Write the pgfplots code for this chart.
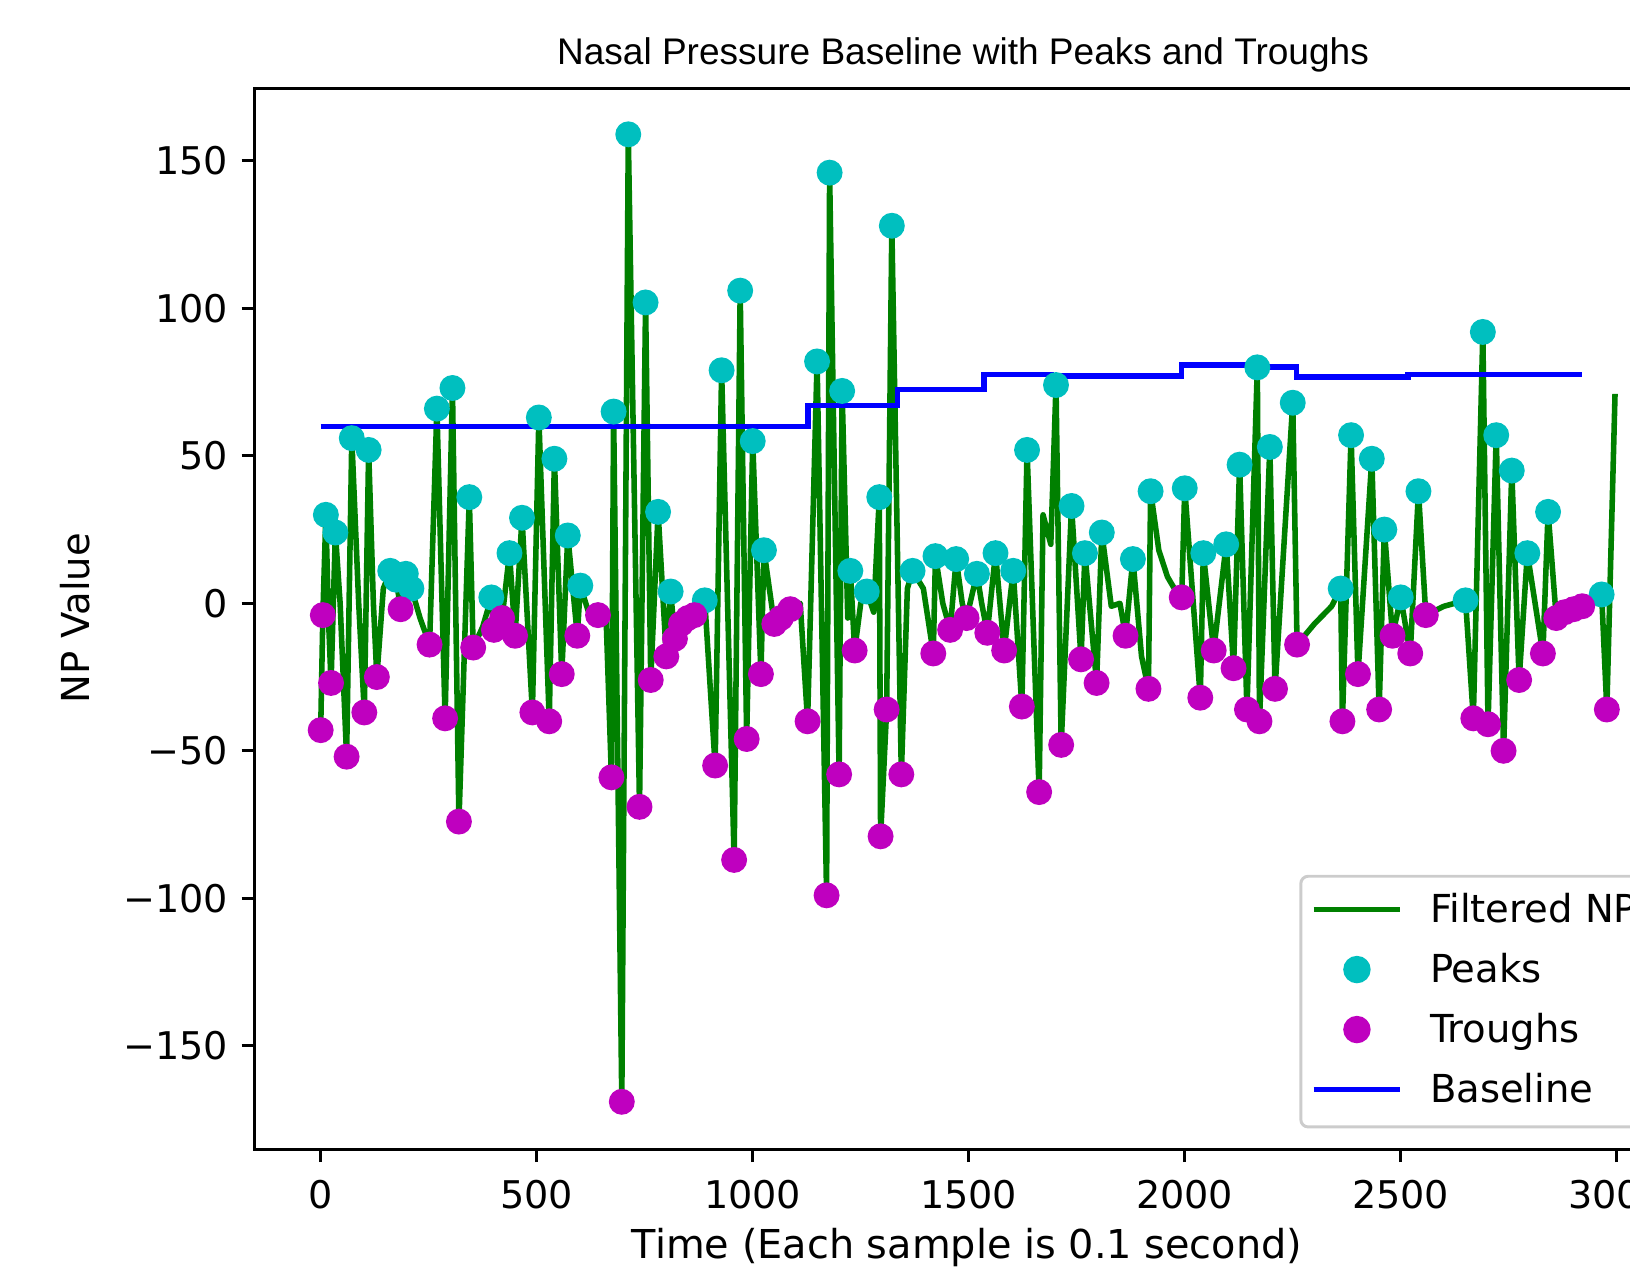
\documentclass[border=0pt]{standalone}
\usepackage{pgfplots}
\pgfplotsset{compat=1.18}
\usepackage{fontspec}
\setmainfont{DejaVu Sans}
\newfontfamily\titlefont{Liberation Sans}
\definecolor{npgreen}{rgb}{0,0.5,0}
\definecolor{pkcyan}{rgb}{0,0.75,0.75}
\definecolor{trmag}{rgb}{0.75,0,0.75}
\definecolor{blblue}{rgb}{0,0,1}
\pgfplotsset{
  linelegend/.style={legend image code/.code={\path[draw=none,fill=none] (0pt,-2pt) rectangle (23.4pt,8pt); \draw[##1, draw opacity=1, fill opacity=1] (0pt,3.6pt) -- (23.4pt,3.6pt);}},
  marklegend/.style={legend image code/.code={\path[draw=none,fill=none] (0pt,-2pt) rectangle (23.4pt,8pt); \draw[##1, draw opacity=1, fill opacity=1, mark options={draw opacity=1, fill opacity=1}] plot coordinates {(11.7pt,3.6pt)};}},
}
\begin{document}
\begin{tikzpicture}[trim left=-68.715pt, trim right=371.385pt]
\path (0pt,-32.05pt) -- (0pt,310.31pt);
\begin{axis}[
  at={(0pt,0pt)}, anchor=south west,
  scale only axis, width=390.3pt, height=286.3pt,
  xmin=-153.2, xmax=3192.8, ymin=-185.1, ymax=174.4,
  axis line style={line width=0.8pt},
  tick style={line width=0.8pt, black},
  major tick length=3.5pt,
  tick align=outside,
  xtick pos=bottom, ytick pos=left,
  xtick={0,500,1000,1500,2000,2500,3000},
  xticklabels={0,500,1000,1500,2000,2500,3000},
  ytick={-150,-100,-50,0,50,100,150},
  yticklabels={−150,−100,−50,0,50,100,150},
  xticklabel style={font=\fontsize{10.3}{12}\selectfont, anchor=base, inner sep=0pt, yshift=-12.5pt},
  yticklabel style={font=\fontsize{10.3}{12}\selectfont, anchor=east, inner sep=0pt, xshift=-3.4pt},
  legend cell align=left,
  legend style={at={(0.7228,0.2589)}, anchor=north west,
    draw=black!20, line width=0.8pt, rounded corners=2pt, fill=white, fill opacity=0.8, text opacity=1,
    inner xsep=2.7pt, inner ysep=1.45pt, row sep=0pt, column sep=7.3pt,
    cells={anchor=base west},
    nodes={inner sep=0pt, text height=11.15pt, text depth=5.05pt},
    font=\fontsize{10.4}{12}\selectfont},
]
\addlegendimage{color=npgreen, line width=1.5pt, linelegend}
\addlegendentry{Filtered NP}
\addlegendimage{only marks, mark=*, color=pkcyan, mark size=3.3pt, marklegend}
\addlegendentry{Peaks}
\addlegendimage{only marks, mark=*, color=trmag, mark size=3.3pt, marklegend}
\addlegendentry{Troughs}
\addlegendimage{color=blblue, line width=1.5pt, linelegend}
\addlegendentry{Baseline}

% Peaks
\addplot[forget plot, only marks, mark=*, mark size=3.3pt, color=pkcyan] coordinates {
(12,30)(34,24)(72,56)(111,52)(161,11)(175,8)(197,10)(210,5)(269,66)(305,73)(344,36)(395,2)
(437,17)(466,29)(505,63)(541,49)(572,23)(601,6)(678,65)(712,159)(752,102)(781,31)(810,4)
(889,1)(928,79)(971,106)(1000,55)(1026,18)(1149,82)(1178,146)(1207,72)(1226,11)(1264,4)
(1293,36)(1322,128)(1370,11)(1423,16)(1471,15)(1519,10)(1562,17)(1603,11)(1635,52)(1702,74)
(1738,33)(1769,17)(1808,24)(1880,15)(1921,38)(2000,39)(2043,17)(2096,20)(2127,47)(2168,80)
(2197,53)(2250,68)(2361,5)(2385,57)(2433,49)(2462,25)(2500,2)(2541,38)(2650,1)(2690,92)
(2721,57)(2757,45)(2793,17)(2841,31)(2965,3)
};
% Troughs
\addplot[forget plot, only marks, mark=*, mark size=3.3pt, color=trmag] coordinates {
(0,-43)(5,-4)(24,-27)(60,-52)(101,-37)(130,-25)(185,-2)(252,-14)(288,-39)(320,-74)(353,-15)
(401,-9)(420,-5)(450,-11)(490,-37)(529,-40)(558,-24)(594,-11)(642,-4)(673,-59)(697,-169)
(738,-69)(764,-26)(800,-18)(820,-12)(834,-7)(850,-5)(865,-4)(913,-55)(957,-87)(986,-46)
(1019,-24)(1050,-7)(1065,-5)(1087,-2)(1127,-40)(1171,-99)(1200,-58)(1236,-16)(1296,-79)
(1310,-36)(1344,-58)(1418,-17)(1457,-9)(1495,-5)(1543,-10)(1582,-16)(1623,-35)(1663,-64)
(1714,-48)(1760,-19)(1796,-27)(1863,-11)(1916,-29)(1993,2)(2036,-32)(2067,-16)(2113,-22)
(2144,-36)(2173,-40)(2209,-29)(2260,-14)(2365,-40)(2401,-24)(2450,-36)(2481,-11)(2522,-17)
(2558,-4)(2668,-39)(2702,-41)(2738,-50)(2774,-26)(2829,-17)(2860,-5)(2880,-3)(2900,-2)
(2920,-1)(2977,-36)
};
% Filtered NP signal
\addplot[forget plot, color=npgreen, line width=1.5pt, line join=round, mark=none] coordinates {
(0,-43)(5,-4)(12,30)(18,-5)(24,-27)(34,24)(45,0)(60,-52)(72,56)(88,0)(101,-37)(111,52)(122,0)
(130,-25)(145,5)(161,11)(175,8)(185,-2)(197,10)(210,5)(230,-5)(252,-14)(269,66)(288,-39)
(305,73)(320,-74)(344,36)(353,-15)(375,-8)(395,2)(401,-9)(420,-5)(437,17)(450,-11)(466,29)
(490,-37)(505,63)(529,-40)(541,49)(558,-24)(572,23)(594,-11)(601,6)(620,-3)(642,-4)(660,-2)
(673,-59)(678,65)(697,-169)(712,159)(738,-69)(752,102)(764,-26)(781,31)(800,-18)(810,4)
(820,-12)(834,-7)(850,-5)(865,-4)(889,1)(913,-55)(928,79)(957,-87)(971,106)(986,-46)
(1000,55)(1019,-24)(1026,18)(1050,-7)(1065,-5)(1087,-2)(1110,0)(1127,-40)(1149,82)
(1171,-99)(1178,146)(1200,-58)(1207,72)(1220,-5)(1226,11)(1236,-16)(1250,0)(1264,4)
(1280,-3)(1293,36)(1296,-79)(1310,-36)(1322,128)(1344,-58)(1358,5)(1370,11)(1395,5)
(1418,-17)(1423,16)(1440,0)(1457,-9)(1471,15)(1485,0)(1495,-5)(1519,10)(1530,0)(1543,-10)
(1562,17)(1582,-16)(1603,11)(1623,-35)(1635,52)(1663,-64)(1672,30)(1690,20)(1702,74)
(1714,-48)(1738,33)(1760,-19)(1769,17)(1796,-27)(1808,24)(1830,-1)(1850,0)(1863,-11)
(1880,15)(1900,-18)(1916,-29)(1921,38)(1940,18)(1960,9)(1980,4)(1993,2)(2000,39)(2036,-32)
(2043,17)(2067,-16)(2096,20)(2113,-22)(2127,47)(2144,-36)(2168,80)(2173,-40)(2197,53)
(2209,-29)(2250,68)(2260,-14)(2300,-7)(2340,-1)(2361,5)(2365,-40)(2385,57)(2401,-24)
(2433,49)(2450,-36)(2462,25)(2481,-11)(2500,2)(2522,-17)(2541,38)(2558,-4)(2600,-1)
(2650,1)(2668,-39)(2690,92)(2702,-41)(2721,57)(2738,-50)(2757,45)(2774,-26)(2793,17)
(2829,-17)(2841,31)(2860,-5)(2880,-3)(2900,-2)(2920,-1)(2940,0)(2965,3)(2977,-36)
(2996,71)
};
% Baseline
\addplot[forget plot, color=blblue, line width=1.5pt, mark=none] coordinates {
(0,60)(1128,60)(1128,67)(1335,67)(1335,72.5)(1535,72.5)(1535,77.5)(1690,77.5)(1690,77)
(1993,77)(1993,80.8)(2158,80.8)(2158,80.2)(2259,80.2)(2259,76.8)(2517,76.8)(2517,77.6)(2919,77.6)
};
\end{axis}
\node[anchor=base, inner sep=0pt] at (191.3pt,292.8pt) {\titlefont\fontsize{10}{12}\selectfont Nasal Pressure Baseline with Peaks and Troughs};
\node[anchor=base, inner sep=0pt] at (192.4pt,-29.5pt) {\fontsize{10.75}{12}\selectfont Time (Each sample is 0.1 second)};
\node[anchor=base, inner sep=0pt, rotate=90] at (-44.6pt,143.4pt) {\fontsize{10.4}{12}\selectfont NP Value};
\end{tikzpicture}
\end{document}
